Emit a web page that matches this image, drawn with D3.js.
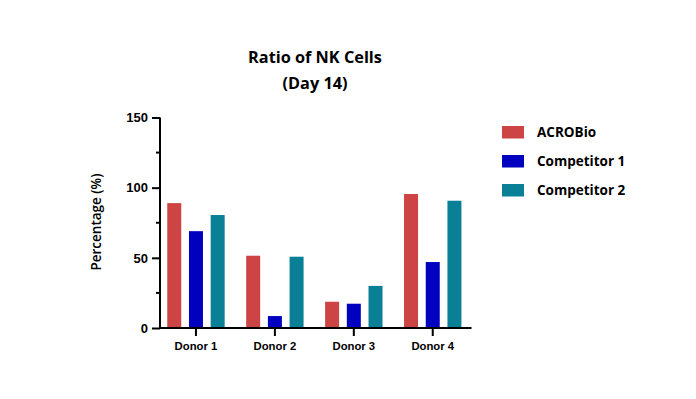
<!DOCTYPE html>
<html>
<head>
<meta charset="utf-8">
<script src="https://cdn.jsdelivr.net/npm/d3@7"></script>
<style>
  body { margin: 0; background: #fff; }
  svg { font-family: "Open Sans", "Noto Sans", sans-serif; font-weight: bold; }
</style>
</head>
<body>
<svg width="696" height="399"></svg>
<script>
// data
var donors = ["Donor 1", "Donor 2", "Donor 3", "Donor 4"];
var seriesNames = ["ACROBio", "Competitor 1", "Competitor 2"];
var acroBio = [89, 51.5, 18.7, 95.5];
var competitor1 = [69, 8.5, 17.3, 47];
var competitor2 = [80.5, 50.8, 30, 90.7];
var yTicks = [0, 50, 100, 150];
var yMinorTicks = [25, 75, 125];
var colors = ["#cc4444", "#0000bf", "#0a8096"];

var values = [acroBio, competitor1, competitor2];

var svg = d3.select("svg");

// scales
var x0 = d3.scaleBand().domain(donors).range([156.5, 472.2]).padding(0);
var x1 = d3.scaleBand().domain(seriesNames).range([0, 57.4]).paddingInner(0.355).paddingOuter(0);
var groupOffset = (x0.bandwidth() - 57.4) / 2;
var y = d3.scaleLinear().domain([0, 150]).range([328, 117.5]);

// bars
var g = svg.append("g");
donors.forEach(function(d, i) {
  seriesNames.forEach(function(s, j) {
    g.append("rect")
      .attr("x", x0(d) + groupOffset + x1(s))
      .attr("y", y(values[j][i]))
      .attr("width", x1.bandwidth())
      .attr("height", y(0) - y(values[j][i]))
      .attr("fill", colors[j]);
  });
});

// y axis
var yAxis = svg.append("g")
  .attr("transform", "translate(160,0)")
  .call(d3.axisLeft(y).tickValues(yTicks).tickSize(8).tickPadding(4));
yAxis.append("g").selectAll("line")
  .data(yMinorTicks).join("line")
  .attr("x1", -4).attr("x2", 0)
  .attr("y1", d => y(d)).attr("y2", d => y(d))
  .attr("stroke", "#000").attr("stroke-width", 2);

// x axis
var xAxis = svg.append("g")
  .attr("transform", "translate(0,328)")
  .call(d3.axisBottom(x0).tickSize(8).tickPadding(6).tickSizeOuter(0));
xAxis.select(".domain").attr("d", "M159,0H471.5");

svg.selectAll(".domain").attr("stroke", "#000").attr("stroke-width", 2);
svg.selectAll(".tick line").attr("stroke", "#000").attr("stroke-width", 2);
yAxis.selectAll(".tick text").attr("font-size", 13).attr("fill", "#000").attr("font-family", null);
xAxis.selectAll(".tick text").attr("font-size", 11.3).attr("fill", "#000").attr("font-family", null);
yAxis.select(".domain").attr("d", "M0,117.5V329");

// y label
svg.append("text")
  .attr("transform", "translate(101,222) rotate(-90)")
  .attr("text-anchor", "middle")
  .attr("font-size", 13.5)
  .attr("font-weight", 600)
  .text("Percentage (%)");

// title
svg.append("text").attr("x", 315).attr("y", 63)
  .attr("text-anchor", "middle").attr("font-size", 16.3)
  .text("Ratio of NK Cells");
svg.append("text").attr("x", 315).attr("y", 89)
  .attr("text-anchor", "middle").attr("font-size", 16.3)
  .text("(Day 14)");

// legend
var legend = svg.append("g").attr("transform", "translate(502,126)");
seriesNames.forEach(function(s, i) {
  legend.append("rect")
    .attr("x", 0).attr("y", i * 29)
    .attr("width", 22).attr("height", 12.5)
    .attr("fill", colors[i]);
  legend.append("text")
    .attr("x", 35).attr("y", i * 29 + 11)
    .attr("font-size", 13.5)
    .text(s);
});
</script>
</body>
</html>
